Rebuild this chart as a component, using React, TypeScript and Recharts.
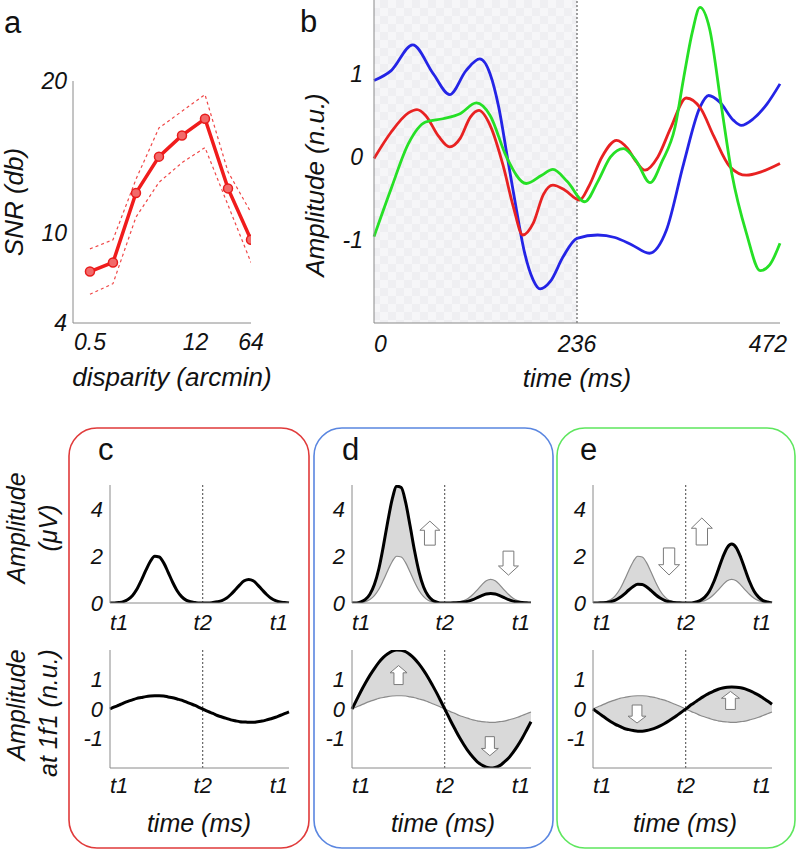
import React from "react";
import {
  LineChart, Line, XAxis, YAxis, ReferenceArea, ReferenceLine, ReferenceDot, ComposedChart, Area,
} from "recharts";

const FONT = "'Liberation Sans', Arial, sans-serif";

// panel a: SNR vs disparity
const disparity = [0.5, 1, 2, 4, 8, 16, 32, 64];
const snrMean = [7.4, 8.0, 12.6, 15.0, 16.4, 17.5, 12.9, 9.5];
const snrUpper = [8.9, 9.5, 13.5, 16.9, 18.0, 19.1, 14.0, 11.3];
const snrLower = [5.9, 6.6, 11.0, 13.3, 14.6, 15.6, 11.8, 8.0];
const disparityTicks = [0.5, 12, 64];
const snrTicks = [4, 10, 20];

// panel b: 1f1 waveforms
const blueTime = [0, 20, 45, 69, 88, 107, 123, 135, 145, 155, 165, 175, 185, 193, 205, 220, 236, 260, 280, 300, 320, 340, 360, 379, 389, 402, 418, 427, 441, 457, 472];
const blueAmp = [0.92, 1.04, 1.35, 1.0, 0.75, 1.04, 1.18, 1.0, 0.6, 0.0, -0.6, -1.15, -1.48, -1.59, -1.5, -1.2, -0.98, -0.94, -0.97, -1.06, -1.16, -0.88, -0.08, 0.6, 0.74, 0.66, 0.44, 0.38, 0.46, 0.64, 0.88];
const redTime = [0, 20, 40, 50, 60, 75, 88, 100, 112, 122, 135, 150, 162, 173, 185, 197, 208, 222, 239, 250, 265, 282, 295, 305, 315, 330, 345, 363, 380, 395, 414, 433, 450, 472];
const redAmp = [-0.02, 0.3, 0.53, 0.57, 0.5, 0.25, 0.12, 0.22, 0.48, 0.56, 0.38, -0.1, -0.6, -0.94, -0.8, -0.45, -0.34, -0.4, -0.52, -0.35, 0.0, 0.2, 0.1, -0.06, -0.16, 0.0, 0.35, 0.71, 0.58, 0.25, -0.12, -0.22, -0.18, -0.08];
const greenTime = [0, 20, 40, 60, 80, 100, 119, 135, 154, 177, 195, 208, 225, 245, 260, 275, 290, 305, 321, 335, 350, 360, 370, 379, 390, 404, 416, 433, 449, 460, 472];
const greenAmp = [-0.96, -0.38, 0.16, 0.42, 0.46, 0.52, 0.65, 0.5, 0.0, -0.32, -0.22, -0.15, -0.3, -0.54, -0.3, 0.0, 0.1, -0.05, -0.31, -0.05, 0.36, 0.95, 1.5, 1.8, 1.55, 0.6, -0.2, -0.92, -1.37, -1.3, -1.04];
const timeTicks = [0, 236, 472];
const ampTicks = [-1, 0, 1];
const HALF_CYCLE = 236;

// panels c-e: schematic responses over one cycle (t1 -> t2 -> t1)
const phase = [0, 2.5, 5, 7.5, 10, 12.5, 15, 17.5, 20, 22.5, 25, 27.5, 30, 32.5, 35, 37.5, 40, 42.5, 45, 47.5, 50, 52.5, 55, 57.5, 60, 62.5, 65, 67.5, 70, 72.5, 75, 77.5, 80, 82.5, 85, 87.5, 90, 92.5, 95, 97.5, 100];
const respBase = [0, 0, 0.02, 0.06, 0.15, 0.31, 0.58, 0.96, 1.38, 1.76, 1.98, 1.95, 1.7, 1.3, 0.88, 0.52, 0.27, 0.12, 0.05, 0.02, 0, 0, 0, 0.02, 0.05, 0.1, 0.2, 0.36, 0.56, 0.77, 0.94, 1.0, 0.94, 0.77, 0.56, 0.36, 0.2, 0.1, 0.04, 0.02, 0];
const respD = [0, 0, 0.05, 0.15, 0.37, 0.78, 1.45, 2.4, 3.46, 4.41, 4.95, 4.89, 4.25, 3.25, 2.19, 1.3, 0.68, 0.31, 0.12, 0.04, 0, 0, 0, 0.01, 0.02, 0.04, 0.08, 0.14, 0.23, 0.31, 0.38, 0.4, 0.38, 0.31, 0.23, 0.14, 0.08, 0.04, 0.02, 0.01, 0];
const respE = [0, 0, 0.01, 0.02, 0.06, 0.12, 0.23, 0.38, 0.55, 0.7, 0.79, 0.78, 0.68, 0.52, 0.35, 0.21, 0.11, 0.05, 0.02, 0.01, 0, 0, 0, 0.04, 0.11, 0.25, 0.5, 0.9, 1.41, 1.94, 2.35, 2.5, 2.35, 1.94, 1.41, 0.9, 0.5, 0.25, 0.1, 0.04, 0];
const f1Base = [0, 0.07, 0.13, 0.2, 0.26, 0.31, 0.36, 0.39, 0.42, 0.44, 0.45, 0.45, 0.44, 0.41, 0.38, 0.34, 0.3, 0.24, 0.18, 0.12, 0.05, -0.02, -0.09, -0.15, -0.22, -0.27, -0.32, -0.37, -0.4, -0.43, -0.44, -0.45, -0.45, -0.43, -0.41, -0.37, -0.33, -0.28, -0.22, -0.16, -0.1];
const f1D = [0, 0.3, 0.6, 0.88, 1.14, 1.37, 1.58, 1.75, 1.87, 1.96, 2.0, 1.99, 1.94, 1.84, 1.7, 1.52, 1.31, 1.07, 0.8, 0.52, 0.22, -0.08, -0.39, -0.68, -0.96, -1.21, -1.44, -1.63, -1.79, -1.9, -1.97, -2.0, -1.98, -1.92, -1.8, -1.66, -1.47, -1.25, -1.0, -0.72, -0.43];
const f1E = [0, -0.11, -0.22, -0.33, -0.43, -0.52, -0.59, -0.66, -0.7, -0.73, -0.75, -0.75, -0.73, -0.69, -0.64, -0.57, -0.49, -0.4, -0.3, -0.19, -0.08, 0.03, 0.15, 0.25, 0.36, 0.45, 0.54, 0.61, 0.67, 0.71, 0.74, 0.75, 0.74, 0.72, 0.68, 0.62, 0.55, 0.47, 0.37, 0.27, 0.16];
const T2 = 51.8;
const phaseTicks = [0, T2, 100];
const phaseLabels = ["t1", "t2", "t1"];
const respTicks = [0, 2, 4];
const f1Ticks = [-1, 0, 1];

// arrow annotations (phase, value, direction)
const arrowsDTop = [{ x: 43.5, y: 2.96, up: true }, { x: 87.4, y: 1.69, up: false }];
const arrowsDBottom = [{ x: 26, y: 1.15, up: true }, { x: 77, y: -1.26, up: false }];
const arrowsETop = [{ x: 42.5, y: 1.76, up: false }, { x: 60.8, y: 3.03, up: true }];
const arrowsEBottom = [{ x: 24.6, y: -0.17, up: false }, { x: 76.8, y: 0.29, up: true }];

const AXIS = { stroke: "#8a8a8a", strokeWidth: 1 };

function makeXTick(size: number, dy: number, labels?: string[], edges = false, endDx = 0) {
  return (props: any) => {
    const { x, y, payload, index } = props;
    let anchor = "middle";
    let dx = 0;
    const n = labels ? labels.length : 3;
    if (edges && index === 0) anchor = "start";
    if (edges && index === n - 1) { anchor = "end"; dx = endDx; }
    const text = labels ? labels[index] : String(payload.value);
    return (
      <text x={x + dx} y={y + dy} textAnchor={anchor} fontSize={size} fontStyle="italic" fontFamily={FONT} fill="#111">
        {text}
      </text>
    );
  };
}

function makeYTick(size: number, gap: number) {
  return (props: any) => {
    const { x, y, payload } = props;
    return (
      <text x={x - gap} y={y} dy="0.36em" textAnchor="end" fontSize={size} fontStyle="italic" fontFamily={FONT} fill="#111">
        {String(payload.value)}
      </text>
    );
  };
}

function BlockArrow(props: any) {
  const { cx, cy, up, w, h } = props;
  const head = h * 0.38;
  const sw = w * 0.27;
  const top = cy - h / 2;
  const bot = cy + h / 2;
  const pts = up
    ? [[cx, top], [cx + w / 2, top + head], [cx + sw, top + head], [cx + sw, bot], [cx - sw, bot], [cx - sw, top + head], [cx - w / 2, top + head]]
    : [[cx, bot], [cx + w / 2, bot - head], [cx + sw, bot - head], [cx + sw, top], [cx - sw, top], [cx - sw, bot - head], [cx - w / 2, bot - head]];
  return <polygon points={pts.map((p) => p.join(",")).join(" ")} fill="#fff" stroke="#7a7a7a" strokeWidth={1} />;
}

function SnrChart() {
  const mean = disparity.map((d, i) => ({ d, v: snrMean[i] }));
  const upper = disparity.map((d, i) => ({ d, v: snrUpper[i] }));
  const lower = disparity.map((d, i) => ({ d, v: snrLower[i] }));
  return (
    <div style={{ position: "absolute", left: 0, top: 0 }}>
      <LineChart width={270} height={400} margin={{ top: 81, right: 19, bottom: 0, left: 0 }}>
        <XAxis dataKey="d" type="number" scale="log" domain={[0.3, 64]} ticks={disparityTicks} allowDataOverflow
          height={77} tickSize={0} tickMargin={0} axisLine={AXIS} tickLine={false} tick={makeXTick(23, 27)} />
        <YAxis type="number" domain={[4, 20]} ticks={snrTicks} width={73} tickSize={0} tickMargin={0}
          axisLine={AXIS} tickLine={false} tick={makeYTick(23, 6)} />
        <Line data={upper} dataKey="v" type="linear" stroke="#f04848" strokeWidth={1.2} strokeDasharray="3 3" dot={false} isAnimationActive={false} />
        <Line data={lower} dataKey="v" type="linear" stroke="#f04848" strokeWidth={1.2} strokeDasharray="3 3" dot={false} isAnimationActive={false} />
        <Line data={mean} dataKey="v" type="linear" stroke="#f01c1c" strokeWidth={3.5}
          dot={{ r: 4.5, fill: "#f26a6a", stroke: "#e81c1c", strokeWidth: 1.5 }} isAnimationActive={false} />
      </LineChart>
    </div>
  );
}

function WaveChart() {
  const blue = blueTime.map((t, i) => ({ t, v: blueAmp[i] }));
  const red = redTime.map((t, i) => ({ t, v: redAmp[i] }));
  const green = greenTime.map((t, i) => ({ t, v: greenAmp[i] }));
  return (
    <div style={{ position: "absolute", left: 300, top: 0 }}>
      <LineChart width={497} height={400} margin={{ top: 0, right: 17, bottom: 0, left: 0 }}>
        <defs>
          <pattern id="chk" width="16" height="16" patternUnits="userSpaceOnUse">
            <rect width="16" height="16" fill="#f6f6f8" />
            <rect width="8" height="8" fill="#efeff2" />
            <rect x="8" y="8" width="8" height="8" fill="#efeff2" />
          </pattern>
        </defs>
        <XAxis dataKey="t" type="number" domain={[0, 472]} ticks={timeTicks} height={77} tickSize={0} tickMargin={0}
          axisLine={AXIS} tickLine={false} tick={makeXTick(23, 29, undefined, true, 7)} />
        <YAxis type="number" domain={[-2, 1.89]} ticks={ampTicks} width={74} tickSize={0} tickMargin={0}
          axisLine={AXIS} tickLine={false} tick={makeYTick(23, 11)} allowDataOverflow />
        <ReferenceArea x1={0} x2={HALF_CYCLE} fill="url(#chk)" fillOpacity={1} stroke="none" />
        <ReferenceLine x={HALF_CYCLE} stroke="#444" strokeDasharray="2 2" strokeWidth={1} />
        <Line data={blue} dataKey="v" type="monotone" stroke="#2424e6" strokeWidth={2.8} dot={false} isAnimationActive={false} />
        <Line data={red} dataKey="v" type="monotone" stroke="#e82222" strokeWidth={2.8} dot={false} isAnimationActive={false} />
        <Line data={green} dataKey="v" type="monotone" stroke="#26e026" strokeWidth={2.8} dot={false} isAnimationActive={false} />
      </LineChart>
    </div>
  );
}

type Arrow = { x: number; y: number; up: boolean };

function PhaseChart(props: {
  left: number; top: number; base: number[]; changed?: number[]; domain: [number, number];
  ticks: number[]; tickDy: number; arrows?: Arrow[]; arrowW: number; arrowH: number;
}) {
  const { left, top, base, changed, domain, ticks, tickDy, arrows, arrowW, arrowH } = props;
  const rows = phase.map((x, i) => ({
    x,
    base: base[i],
    changed: changed ? changed[i] : undefined,
    band: changed ? [Math.min(base[i], changed[i]), Math.max(base[i], changed[i])] : undefined,
  }));
  return (
    <div style={{ position: "absolute", left, top }}>
      <ComposedChart width={240} height={170} data={rows} margin={{ top: 15, right: 11, bottom: 0, left: 0 }}>
        <XAxis dataKey="x" type="number" domain={[0, 100]} ticks={phaseTicks} height={37} tickSize={0} tickMargin={0}
          axisLine={AXIS} tickLine={false} tick={makeXTick(22, tickDy, phaseLabels, true)} />
        <YAxis type="number" domain={domain} ticks={ticks} width={50} tickSize={0} tickMargin={0}
          axisLine={AXIS} tickLine={false} tick={makeYTick(22, 7)} allowDataOverflow />
        {changed && (
          <Area dataKey="band" type="monotone" fill="#d9d9d9" fillOpacity={1} stroke="none" isAnimationActive={false} />
        )}
        <ReferenceLine x={T2} stroke="#444" strokeDasharray="2 2" strokeWidth={1} />
        {changed ? (
          <Line dataKey="base" type="monotone" stroke="#8a8a8a" strokeWidth={1.2} dot={false} isAnimationActive={false} />
        ) : (
          <Line dataKey="base" type="monotone" stroke="#000" strokeWidth={3} dot={false} isAnimationActive={false} />
        )}
        {changed && (
          <Line dataKey="changed" type="monotone" stroke="#000" strokeWidth={3} dot={false} isAnimationActive={false} />
        )}
        {(arrows || []).map((a, i) => (
          <ReferenceDot key={i} x={a.x} y={a.y} r={1}
            shape={(p: any) => <BlockArrow cx={p.cx} cy={p.cy} up={a.up} w={arrowW} h={arrowH} />} />
        ))}
      </ComposedChart>
    </div>
  );
}

const txt = { fontFamily: FONT, fontStyle: "italic" as const, fill: "#111" };

function Overlay() {
  const vt = (x: number, y: number, s: string, size = 25) => (
    <text x={x} y={y} transform={`rotate(-90 ${x} ${y})`} textAnchor="middle" dominantBaseline="central" fontSize={size} {...txt}>{s}</text>
  );
  return (
    <svg width={797} height={853} style={{ position: "absolute", left: 0, top: 0, pointerEvents: "none" }}>
      <rect x={69} y={428} width={240} height={420} rx={28} fill="none" stroke="#e03a3a" strokeWidth={1.6} />
      <rect x={314} y={428} width={239} height={420} rx={28} fill="none" stroke="#5a86e0" strokeWidth={1.6} />
      <rect x={557} y={428} width={238} height={420} rx={28} fill="none" stroke="#5ee65e" strokeWidth={1.6} />
      <text x={4} y={33} fontSize={31} fontFamily={FONT} fill="#111">a</text>
      <text x={300} y={32} fontSize={31} fontFamily={FONT} fill="#111">b</text>
      <text x={98} y={460} fontSize={31} fontFamily={FONT} fill="#111">c</text>
      <text x={342} y={460} fontSize={31} fontFamily={FONT} fill="#111">d</text>
      <text x={580} y={460} fontSize={31} fontFamily={FONT} fill="#111">e</text>
      {vt(14, 202, "SNR (db)", 26)}
      {vt(315, 185, "Amplitude (n.u.)", 26)}
      <text x={172} y={386} textAnchor="middle" fontSize={26} {...txt}>disparity (arcmin)</text>
      <text x={577} y={387} textAnchor="middle" fontSize={26} {...txt}>time (ms)</text>
      {vt(16, 528, "Amplitude", 25)}
      {vt(48, 528, "(μV)", 25)}
      {vt(16, 705, "Amplitude", 25)}
      {vt(48, 713, "at 1f1 (n.u.)", 25)}
      <text x={199} y={832} textAnchor="middle" fontSize={25} {...txt}>time (ms)</text>
      <text x={443} y={832} textAnchor="middle" fontSize={25} {...txt}>time (ms)</text>
      <text x={685} y={832} textAnchor="middle" fontSize={25} {...txt}>time (ms)</text>
    </svg>
  );
}

export default function App() {
  return (
    <div style={{ position: "absolute", left: 0, top: 0, width: 797, height: 853, background: "#fff", overflow: "hidden" }}>
      <SnrChart />
      <WaveChart />
      <PhaseChart left={60} top={470} base={respBase} domain={[0, 5]} ticks={respTicks} tickDy={27} arrowW={19} arrowH={26} />
      <PhaseChart left={302} top={470} base={respBase} changed={respD} domain={[0, 5]} ticks={respTicks} tickDy={27}
        arrows={arrowsDTop} arrowW={20} arrowH={24} />
      <PhaseChart left={543} top={470} base={respBase} changed={respE} domain={[0, 5]} ticks={respTicks} tickDy={27}
        arrows={arrowsETop} arrowW={21} arrowH={27} />
      <PhaseChart left={60} top={635} base={f1Base} domain={[-2, 2]} ticks={f1Ticks} tickDy={25} arrowW={17} arrowH={18} />
      <PhaseChart left={302} top={635} base={f1Base} changed={f1D} domain={[-2, 2]} ticks={f1Ticks} tickDy={25}
        arrows={arrowsDBottom} arrowW={17} arrowH={19} />
      <PhaseChart left={543} top={635} base={f1Base} changed={f1E} domain={[-2, 2]} ticks={f1Ticks} tickDy={25}
        arrows={arrowsEBottom} arrowW={18} arrowH={18} />
      <Overlay />
    </div>
  );
}
